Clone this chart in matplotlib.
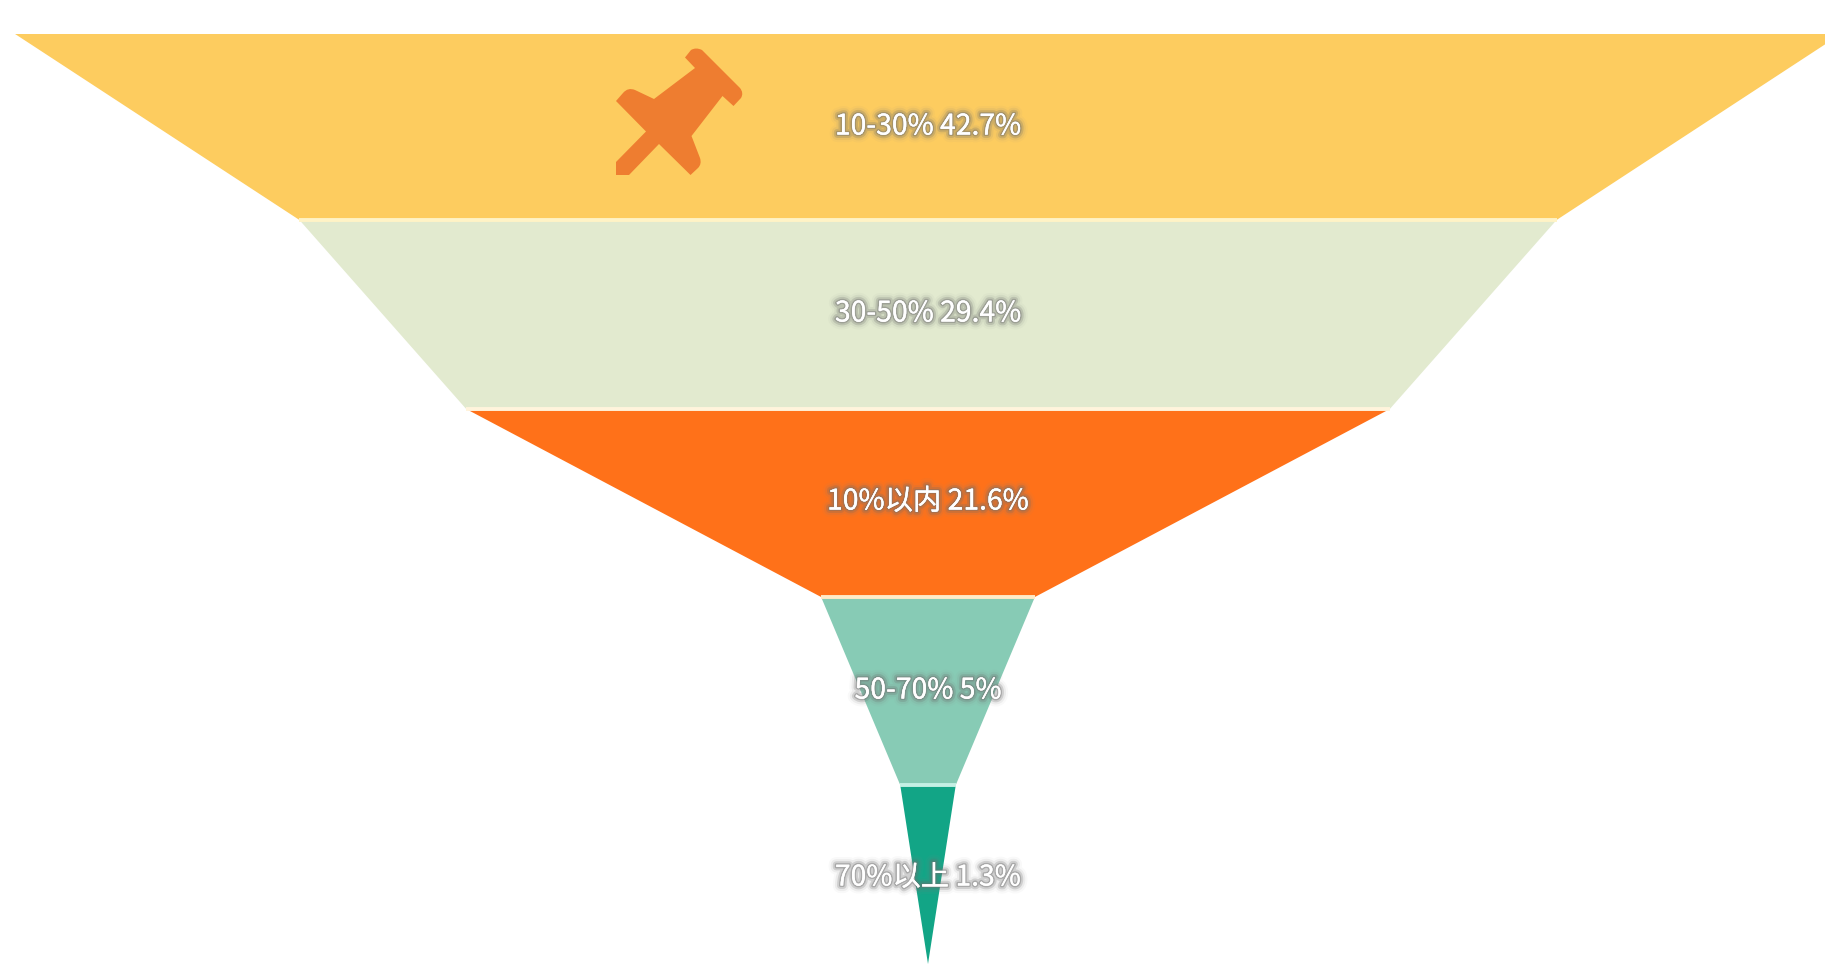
import matplotlib
matplotlib.use("Agg")
import matplotlib.pyplot as plt
import matplotlib.patheffects as pe
from matplotlib.patches import Polygon, PathPatch
from matplotlib.path import Path

plt.rcParams['font.family'] = ['Noto Sans CJK SC', 'DejaVu Sans']

# funnel data, widest band first
categorias = ["10-30%", "30-50%", "10%以内", "50-70%", "70%以上"]
valores = [42.7, 29.4, 21.6, 5, 1.3]
etiquetas = ["10-30% 42.7%", "30-50% 29.4%", "10%以内 21.6%", "50-70% 5%", "70%以上 1.3%"]

colores = ["#FDCC5F", "#E2EACF", "#FF7119", "#87CBB5", "#12A586"]
separadores = ["#FFF3C6", "#FFF4DC", "#FFEBC8", "#C4F0E4"]

W, H = 1825, 972
centro = 928
px_por_punto = 21.38  # half width in pixels for each percentage point
tops = [34, 220, 409, 597, 785, 964]
label_y = [126.5, 313.5, 501.5, 690.5, 877.5]

fig = plt.figure(figsize=(W / 100, H / 100), dpi=100, facecolor="white")
ax = fig.add_axes([0, 0, 1, 1])
ax.set_xlim(0, W)
ax.set_ylim(H, 0)
ax.axis("off")

anchos = [v * px_por_punto for v in valores] + [0]

# each band runs down to the width of the next one
for i, color in enumerate(colores):
    a, b = anchos[i], anchos[i + 1]
    y0, y1 = tops[i], tops[i + 1]
    ax.add_patch(Polygon([(centro - a, y0), (centro + a, y0), (centro + b, y1), (centro - b, y1)],
                         closed=True, facecolor=color, edgecolor="none", zorder=1))

# thin pale gaps between the bands
for i, color in enumerate(separadores):
    a = anchos[i + 1]
    ax.plot([centro - a, centro + a], [tops[i + 1], tops[i + 1]], color=color, lw=2.8,
            solid_capstyle="butt", zorder=2)

# labels: white text with a soft grey shadow
sombra = [pe.withStroke(linewidth=11, foreground="#8a8a8a", alpha=0.05),
          pe.withStroke(linewidth=8, foreground="#7a7a7a", alpha=0.10),
          pe.withStroke(linewidth=5, foreground="#6a6a6a", alpha=0.22),
          pe.withStroke(linewidth=2.2, foreground="#707070", alpha=0.40),
          pe.Normal()]
for texto, y in zip(etiquetas, label_y):
    ax.text(centro, y, texto, color="white", fontsize=20.4, ha="center", va="center",
            path_effects=sombra, zorder=4)

# pushpin icon over the top band, corners rounded with quadratic curves
M, L, C, Z = Path.MOVETO, Path.LINETO, Path.CURVE3, Path.CLOSEPOLY
pin = [
    (685, 57.5, M), (691, 50, L), (696, 47, C), (702, 50, C),
    (740, 88, L), (744, 93, C), (741, 98, C), (733.5, 106, L),
    (722.5, 96, L), (691.5, 136, L), (700, 158, L), (702, 164, C), (698, 168, C),
    (690.5, 175, L), (659, 144, L), (629, 175, L), (616, 175, L), (616, 162, L),
    (646, 131.5, L), (616, 101, L), (623, 93, L), (628, 87, C), (635, 90, C),
    (654, 99, L), (695, 68, L), (685, 57.5, L), (685, 57.5, Z),
]
ax.add_patch(PathPatch(Path([(x, y) for x, y, _ in pin], [c for _, _, c in pin]),
                       facecolor="#EE7D30", edgecolor="none", zorder=3))

fig.savefig("out.png", dpi=100, facecolor="white")
